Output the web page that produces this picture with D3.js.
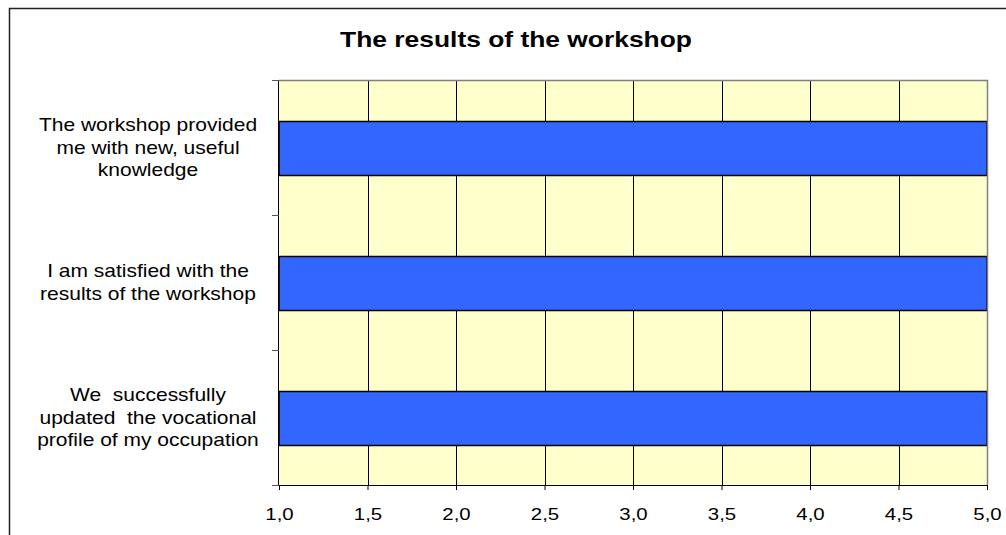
<!DOCTYPE html>
<html><head><meta charset="utf-8">
<script src="https://cdn.jsdelivr.net/npm/d3@7"></script>
<style>body{margin:0;background:#fff}svg{display:block}text{font-family:"Liberation Sans",Arial,sans-serif;white-space:pre}</style>
</head><body><svg id="c" width="1006" height="535"></svg>
<script>
const title = "The results of the workshop";
const categories = [
  ["The workshop provided", "me with new, useful", "knowledge"],
  ["I am satisfied with the", "results of the workshop"],
  ["We  successfully", "updated  the vocational", "profile of my occupation"]
];
const values = [5.0, 5.0, 5.0];
const xTicks = [1.0, 1.5, 2.0, 2.5, 3.0, 3.5, 4.0, 4.5, 5.0];

const SX = 1.2; // horizontal text stretch seen in the reference
const svg = d3.select("#c");
const m = {l: 279, r: 987, t: 80, b: 485};
svg.append("rect").attr("x", 9.5).attr("y", 8.5).attr("width", 1010).attr("height", 540)
  .attr("fill", "#fff").attr("stroke", "#222").attr("stroke-width", 1.5);

const x = d3.scaleLinear().domain([1, 5]).range([m.l, m.r]);
const y = d3.scaleBand().domain(d3.range(categories.length)).range([m.t, m.b]).paddingInner(0.6).paddingOuter(0.3);
const yb = d3.scaleBand().domain(d3.range(categories.length)).range([m.t, m.b]);

svg.append("text").attr("transform", `translate(516,47) scale(${SX},1)`).attr("text-anchor", "middle")
  .attr("font-size", 22).attr("font-weight", "bold").text(title);

svg.append("rect").attr("x", m.l).attr("y", m.t).attr("width", m.r - m.l).attr("height", m.b - m.t)
  .attr("fill", "#FFFFCC");

svg.append("g").selectAll("line").data(xTicks.slice(1, -1)).join("line")
  .attr("x1", d => Math.round(x(d)) + 0.5).attr("x2", d => Math.round(x(d)) + 0.5)
  .attr("y1", m.t).attr("y2", m.b).attr("stroke", "#000").attr("stroke-width", 1);

svg.append("g").selectAll("rect").data(values).join("rect")
  .attr("x", m.l).attr("y", (d, i) => y(i) + 1).attr("width", d => x(d) - m.l).attr("height", y.bandwidth())
  .attr("fill", "#3366FF").attr("stroke", "#000").attr("stroke-width", 1.5);

// plot border top/right
svg.append("path").attr("d", `M${m.l},${m.t + 0.5}H${m.r + 0.5}V${m.b}`).attr("fill", "none").attr("stroke", "#808080").attr("stroke-width", 1.5);

// x axis
const xa = svg.append("g").attr("transform", `translate(0,${m.b})`)
  .call(d3.axisBottom(x).tickValues(xTicks).tickSize(5).tickSizeOuter(0)
    .tickFormat(d => d3.format(".1f")(d).replace(".", ",")));
xa.select(".domain").attr("stroke", "#000");
xa.selectAll("line").attr("stroke", "#000");
xa.selectAll("text").attr("font-size", 17).attr("font-family", "Liberation Sans, Arial, sans-serif")
  .attr("y", 35).attr("dy", null).attr("transform", `scale(${SX},1)`).attr("fill", "#000");

// y axis
svg.append("line").attr("x1", m.l - 0.5).attr("x2", m.l - 0.5).attr("y1", m.t).attr("y2", m.b + 1).attr("stroke", "#000");
svg.append("g").selectAll("line").data(d3.range(categories.length + 1)).join("line")
  .attr("x1", m.l - 7).attr("x2", m.l)
  .attr("y1", i => (i < categories.length ? yb(i) : m.b) + 0.5).attr("y2", i => (i < categories.length ? yb(i) : m.b) + 0.5)
  .attr("stroke", "#555");

const lh = 22.5;
svg.append("g").selectAll("text").data(categories).join("text")
  .attr("text-anchor", "middle").attr("font-size", 17.5).attr("fill", "#000")
  .attr("transform", (lines, i) => `translate(148,${yb(i) + yb.bandwidth() / 2 + 6}) scale(${SX},1)`)
  .each(function(lines) {
    const t0 = -(lines.length - 1) * lh / 2;
    d3.select(this).selectAll("tspan").data(lines).join("tspan")
      .attr("x", 0).attr("y", (d, j) => t0 + j * lh).text(d => d);
  });
</script></body></html>
